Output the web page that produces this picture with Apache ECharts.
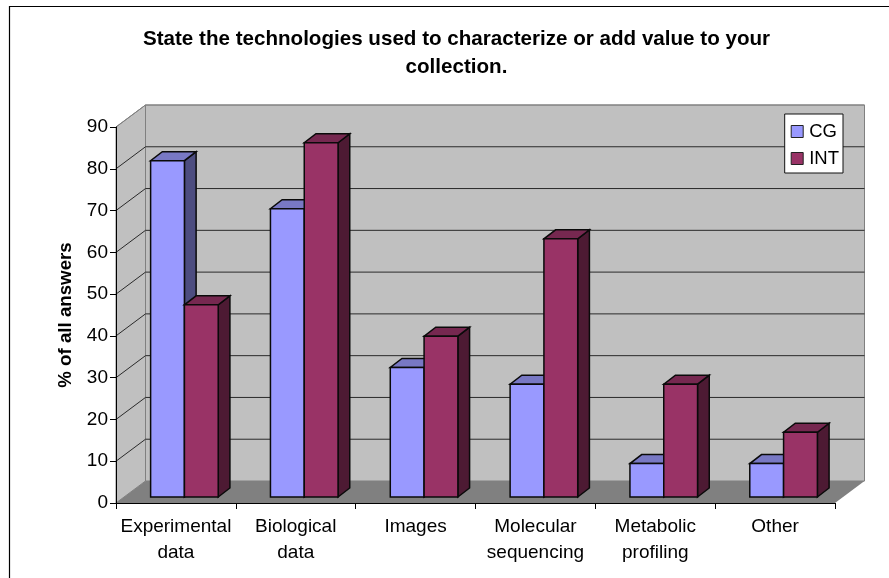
<!DOCTYPE html>
<html>
<head>
<meta charset="utf-8">
<style>html,body{margin:0;padding:0;background:#fff}#chart{width:889px;height:578px}</style>
<script src="https://cdn.jsdelivr.net/npm/echarts@6/dist/echarts.min.js"></script>
</head>
<body>
<div id="chart"></div>
<script>
const categories = ['Experimental\ndata', 'Biological\ndata', 'Images', 'Molecular\nsequencing', 'Metabolic\nprofiling', 'Other'];
const cgValues = [80.5, 69, 31, 27, 8, 8];
const intValues = [46, 84.8, 38.5, 61.8, 27, 15.5];
const yTicks = [10, 20, 30, 40, 50, 60, 70, 80, 90];

// Oblique projection used for the walls and the bar depth
const WALL_DX = 29.5, WALL_DY = -22;
const BAR_SHIFT_X = 8.5, BAR_SHIFT_Y = -6;
const BAR_W = 33.8, BAR_DX = 11.7, BAR_DY = -9;

const FONT = 'Liberation Sans';

function poly(points, fill, stroke, lineWidth) {
  return {
    type: 'polygon',
    shape: { points },
    style: { fill, stroke: stroke || null, lineWidth: lineWidth || 0, lineJoin: 'miter' }
  };
}

function renderWalls(params, api) {
  if (params.dataIndex !== 0) return;
  const c = params.coordSys;
  const L = c.x, R = c.x + c.width, T = c.y, B = c.y + c.height;
  return {
    type: 'group',
    children: [
      poly([[L, B], [L + WALL_DX, B + WALL_DY], [L + WALL_DX, T + WALL_DY], [L, T]], '#C0C0C0', '#808080', 1),
      poly([[L + WALL_DX, B + WALL_DY], [R + WALL_DX, B + WALL_DY], [R + WALL_DX, T + WALL_DY], [L + WALL_DX, T + WALL_DY]], '#C0C0C0', '#808080', 1),
      poly([[L, B], [R, B], [R + WALL_DX, B + WALL_DY], [L + WALL_DX, B + WALL_DY]], '#808080')
    ]
  };
}

function renderGridline(params, api) {
  const c = params.coordSys;
  const y = api.coord([0, api.value(0)])[1];
  const x0 = c.x, x1 = c.x + WALL_DX, x2 = c.x + c.width + WALL_DX;
  const isTop = api.value(0) === yTicks[yTicks.length - 1];
  return {
    type: 'polyline',
    shape: { points: [[x0, y], [x1, y + WALL_DY], [x2, y + WALL_DY]] },
    style: { fill: null, stroke: isTop ? '#808080' : '#2a2a2a', lineWidth: 1 }
  };
}

function barRenderer(offset, front, side, top) {
  return function (params, api) {
    const p = api.coord([api.value(0), api.value(1)]);
    const base = api.coord([api.value(0), 0]);
    const x0 = p[0] + BAR_SHIFT_X + offset * BAR_W;
    const x1 = x0 + BAR_W;
    const yT = p[1] + BAR_SHIFT_Y;
    const yB = base[1] + BAR_SHIFT_Y;
    const line = '#0a0a0a';
    return {
      type: 'group',
      children: [
        poly([[x1, yB], [x1 + BAR_DX, yB + BAR_DY], [x1 + BAR_DX, yT + BAR_DY], [x1, yT]], side, line, 1.5),
        poly([[x0, yT], [x1, yT], [x1 + BAR_DX, yT + BAR_DY], [x0 + BAR_DX, yT + BAR_DY]], top, line, 1.5),
        poly([[x0, yB], [x1, yB], [x1, yT], [x0, yT]], front, line, 1.5)
      ]
    };
  };
}

const chart = echarts.init(document.getElementById('chart'), null, { renderer: 'canvas' });
chart.setOption({
  backgroundColor: '#fff',
  animation: false,
  title: {
    text: 'State the technologies used to characterize or add value to your\ncollection.',
    left: 451.5, top: 20, textAlign: 'center',
    textStyle: { fontFamily: FONT, fontWeight: 'bold', fontSize: 20.6, lineHeight: 28, color: '#000' }
  },
  legend: {
    right: 46, top: 114, orient: 'vertical', padding: [8, 4, 5, 6],
    itemWidth: 12, itemHeight: 12, itemGap: 8,
    backgroundColor: '#fff', borderColor: '#111', borderWidth: 1, borderRadius: 0,
    textStyle: { fontFamily: FONT, fontSize: 18.5, color: '#000', padding: [0, 0, 0, 1] },
    data: [
      { name: 'CG', icon: 'rect', itemStyle: { color: '#9999FF', borderColor: '#222', borderWidth: 1 } },
      { name: 'INT', icon: 'rect', itemStyle: { color: '#993366', borderColor: '#222', borderWidth: 1 } }
    ]
  },
  grid: { left: 116, right: 54, top: 127, bottom: 75 },
  xAxis: {
    type: 'category', data: categories,
    axisLine: { show: true, lineStyle: { color: '#000', width: 1 } },
    axisTick: { show: true, length: 6, lineStyle: { color: '#000' } },
    axisLabel: { fontFamily: FONT, fontSize: 19, color: '#000', lineHeight: 26, margin: 11, interval: 0 },
    z: 5
  },
  yAxis: {
    type: 'value', min: 0, max: 90, interval: 10,
    name: '% of all answers', nameLocation: 'middle', nameGap: 41,
    nameTextStyle: { fontFamily: FONT, fontWeight: 'bold', fontSize: 18.7, color: '#000' },
    splitLine: { show: false },
    axisLine: { show: true, lineStyle: { color: '#000', width: 1 } },
    axisTick: { show: true, length: 6, lineStyle: { color: '#000' } },
    axisLabel: { fontFamily: FONT, fontSize: 19, color: '#000', margin: 8 },
    z: 5
  },
  tooltip: { show: false },
  series: [
    { type: 'custom', name: 'walls', silent: true, z: 1, renderItem: renderWalls, data: [[0]], encode: { x: 0 } },
    { type: 'custom', name: 'gridlines', silent: true, z: 2, renderItem: renderGridline, data: yTicks.map(v => [v]), encode: { y: 0 } },
    {
      type: 'custom', name: 'CG', z: 3, itemStyle: { color: '#9999FF' },
      renderItem: barRenderer(-1, '#9999FF', '#4D4D80', '#7878C4'),
      data: cgValues.map((v, i) => [i, v]), encode: { x: 0, y: 1 }
    },
    {
      type: 'custom', name: 'INT', z: 4, itemStyle: { color: '#993366' },
      renderItem: barRenderer(0, '#993366', '#4D1A33', '#762850'),
      data: intValues.map((v, i) => [i, v]), encode: { x: 0, y: 1 }
    }
  ],
  graphic: [
    { type: 'polyline', silent: true, z: 0, shape: { points: [[9.5, 578], [9.5, 6.5], [889, 6.5]] }, style: { fill: null, stroke: '#000', lineWidth: 1.2 } }
  ]
});
</script>
</body>
</html>
